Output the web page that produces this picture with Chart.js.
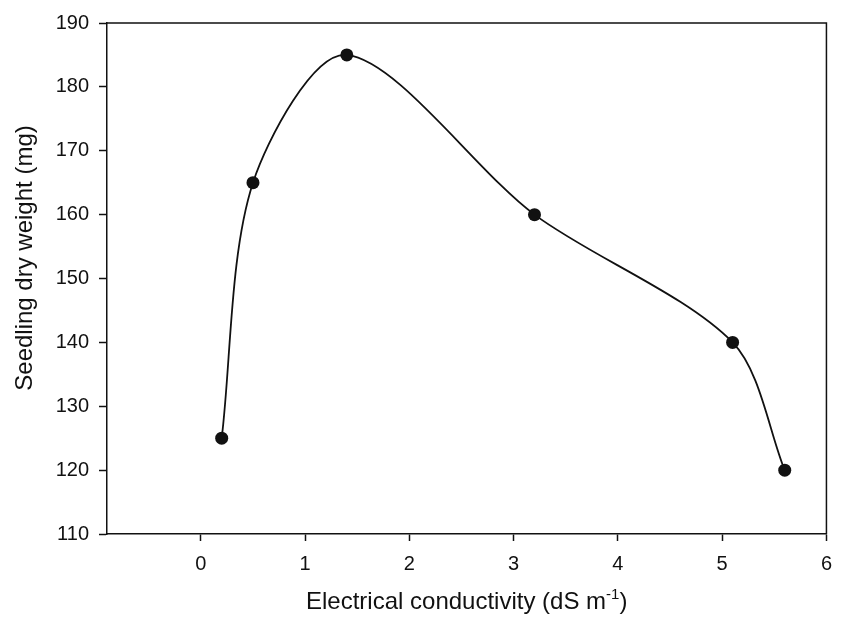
<!DOCTYPE html>
<html>
<head>
<meta charset="utf-8">
<script src="https://cdn.jsdelivr.net/npm/chart.js@4/dist/chart.umd.min.js"></script>
<style>
  html, body { margin: 0; padding: 0; background: #fff; }
  #wrap { width: 843px; height: 622px; }
</style>
</head>
<body>
<div id="wrap"><canvas id="chart"></canvas></div>
<script>
  // data
  const conductivity = [0.2, 0.5, 1.4, 3.2, 5.1, 5.6];
  const dryWeight = [125, 165, 185, 160, 140, 120];
  const xTicks = [0, 1, 2, 3, 4, 5, 6];
  const yTicks = [110, 120, 130, 140, 150, 160, 170, 180, 190];
  const xTitle = ["Electrical conductivity (dS m", "-1", ")"];
  const yTitle = "Seedling dry weight (mg)";

  const ink = "#111";
  const fontFamily = '"Liberation Sans", Arial, sans-serif';

  // top + right spines, and both axis titles (x one has a superscript)
  const framePlugin = {
    id: "frame",
    afterDraw(chart) {
      const { ctx, chartArea: a } = chart;
      ctx.save();
      ctx.strokeStyle = ink;
      ctx.lineWidth = 1.5;
      ctx.beginPath();
      ctx.moveTo(a.left, a.top);
      ctx.lineTo(a.right, a.top);
      ctx.lineTo(a.right, a.bottom);
      ctx.stroke();

      const [main, sup, tail] = xTitle;
      ctx.fillStyle = ink;
      ctx.textBaseline = "alphabetic";
      ctx.textAlign = "left";
      ctx.font = "24px " + fontFamily;
      const wMain = ctx.measureText(main).width;
      const wTail = ctx.measureText(tail).width;
      ctx.font = "15px " + fontFamily;
      const wSup = ctx.measureText(sup).width;
      let x = (a.left + a.right) / 2 - (wMain + wSup + wTail) / 2;
      const y = 609;
      ctx.font = "24px " + fontFamily;
      ctx.fillText(main, x, y);
      x += wMain;
      ctx.font = "15px " + fontFamily;
      ctx.fillText(sup, x, y - 10);
      x += wSup;
      ctx.font = "24px " + fontFamily;
      ctx.fillText(tail, x, y);

      ctx.translate(25, 258);
      ctx.rotate(-Math.PI / 2);
      ctx.textAlign = "center";
      ctx.textBaseline = "middle";
      ctx.fillText(yTitle, 0, 0);
      ctx.restore();
    },
  };

  new Chart(document.getElementById("chart"), {
    type: "line",
    data: {
      datasets: [
        {
          data: conductivity.map((x, i) => ({ x, y: dryWeight[i] })),
          borderColor: ink,
          borderWidth: 1.8,
          backgroundColor: ink,
          pointBackgroundColor: ink,
          pointBorderColor: ink,
          pointRadius: 6.5,
          pointBorderWidth: 0,
          tension: 0.3,
          fill: false,
        },
      ],
    },
    options: {
      responsive: true,
      maintainAspectRatio: false,
      animation: false,
      layout: { padding: { top: 23, right: 6, left: 0, bottom: 0 } },
      plugins: {
        legend: { display: false },
        tooltip: { enabled: false },
      },
      scales: {
        x: {
          type: "linear",
          min: -0.9,
          max: 6,
          afterBuildTicks: (s) => { s.ticks = xTicks.map((v) => ({ value: v })); },
          afterFit: (s) => { s.height = 88; },
          border: { display: true, color: ink, width: 1.5 },
          grid: { drawOnChartArea: false, color: ink, tickLength: 7, tickWidth: 1.5 },
          ticks: { color: ink, padding: 11, font: { family: fontFamily, size: 20 } },
        },
        y: {
          min: 110,
          max: 190,
          afterBuildTicks: (s) => { s.ticks = yTicks.map((v) => ({ value: v })); },
          afterFit: (s) => { s.width = 107; },
          border: { display: true, color: ink, width: 1.5 },
          grid: { drawOnChartArea: false, color: ink, tickLength: 8, tickWidth: 1.5 },
          ticks: { color: ink, padding: 10, font: { family: fontFamily, size: 20 } },
        },
      },
    },
    plugins: [framePlugin],
  });
</script>
</body>
</html>
